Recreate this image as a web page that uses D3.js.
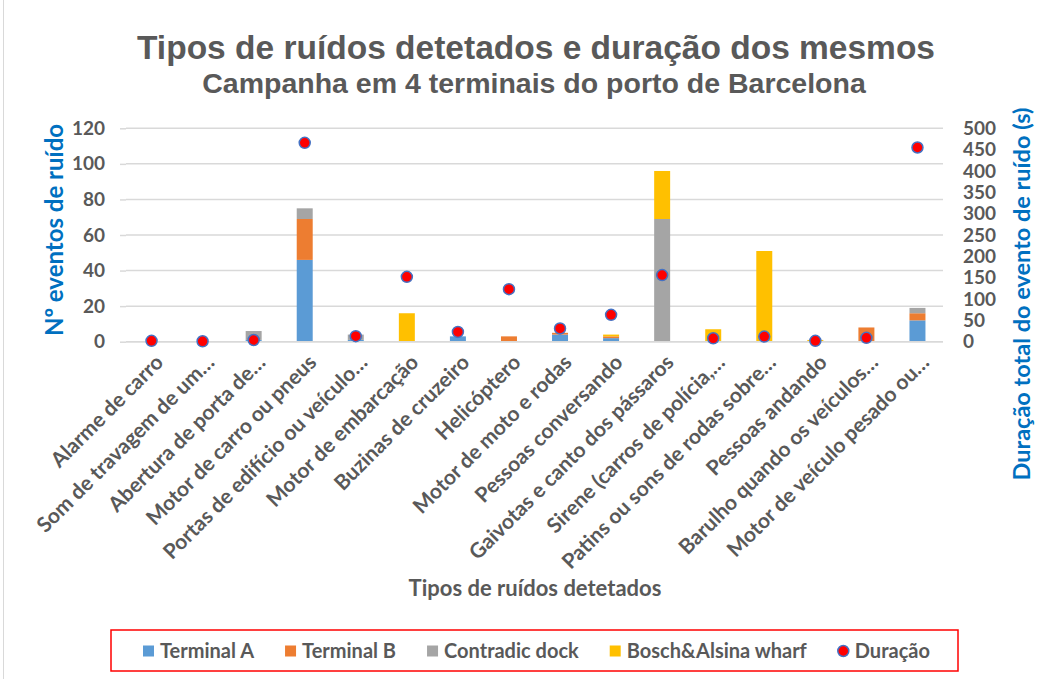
<!DOCTYPE html>
<html>
<head>
<meta charset="utf-8">
<script src="https://cdn.jsdelivr.net/npm/d3@7"></script>
<style>
  body { margin: 0; background: #fff; }
  svg { display: block; }
</style>
</head>
<body>
<svg id="chart" width="1046" height="679"></svg>
<script>
var categories = [
    "Alarme de carro",
    "Som de travagem de um…",
    "Abertura de porta de…",
    "Motor de carro ou pneus",
    "Portas de edifício ou veículo…",
    "Motor de embarcação",
    "Buzinas de cruzeiro",
    "Helicóptero",
    "Motor de moto e rodas",
    "Pessoas conversando",
    "Gaivotas e canto dos pássaros",
    "Sirene (carros de polícia,…",
    "Patins ou sons de rodas sobre…",
    "Pessoas andando",
    "Barulho quando os veículos…",
    "Motor de veículo pesado ou…"
]
var terminalA = [0, 0, 1, 46, 1, 0, 3, 0, 4, 2, 0, 0, 0, 0, 0, 12]
var terminalB = [0, 0, 0, 23, 0, 0, 0, 3, 1, 1, 0, 0, 0, 0, 8, 4]
var contradicDock = [0, 0, 5, 6, 3, 0, 0, 0, 0, 0, 69, 0, 0, 0, 0, 3]
var boschWharf = [0, 0, 0, 0, 0, 16, 0, 0, 0, 1, 27, 7, 51, 1, 0, 0]
var duracao = [2, 1, 4, 466, 13, 152, 23, 123, 31, 63, 156, 8, 12, 2, 9, 455]

var seriesNames = ["Terminal A", "Terminal B", "Contradic dock", "Bosch&Alsina wharf"]
var seriesColors = ["#5B9BD5", "#ED7D31", "#A5A5A5", "#FFC000"]
var leftTicks = [0, 20, 40, 60, 80, 100, 120]
var rightTicks = [0, 50, 100, 150, 200, 250, 300, 350, 400, 450, 500]

var svg = d3.select("#chart")
var grey = "#595959"
var blue = "#0070C0"
var labelFont = "Lato, 'Open Sans', sans-serif"

var plotL = 126, plotR = 943, plotT = 128.3, plotB = 341.7

// rows for the stack
var rows = categories.map(function(c, i) {
    return {
        cat: c,
        "Terminal A": terminalA[i],
        "Terminal B": terminalB[i],
        "Contradic dock": contradicDock[i],
        "Bosch&Alsina wharf": boschWharf[i],
        dur: duracao[i]
    }
})

var x = d3.scaleBand().domain(categories).range([plotL, plotR])
    .paddingInner(0.687).paddingOuter(0.3435)
var y = d3.scaleLinear().domain([0, 120]).range([plotB, plotT])
var y2 = d3.scaleLinear().domain([0, 500]).range([plotB, plotT])

// outer frame line
svg.append("line").attr("x1", 3.5).attr("x2", 3.5).attr("y1", 0).attr("y2", 679)
    .attr("stroke", "#d9d9d9").attr("stroke-width", 1)

// gridlines
svg.append("g").selectAll("line").data(leftTicks).enter().append("line")
    .attr("x1", plotL).attr("x2", plotR)
    .attr("y1", function(d) { return y(d) }).attr("y2", function(d) { return y(d) })
    .attr("stroke", "#d9d9d9").attr("stroke-width", 1.5)

// left axis
var yAxis = d3.axisLeft(y).tickValues(leftTicks).tickSize(6).tickPadding(15)
var gy = svg.append("g").attr("transform", "translate(" + plotL + ",0)").call(yAxis)
gy.select(".domain").remove()
gy.selectAll(".tick line").attr("stroke", "#d9d9d9").attr("stroke-width", 1.5)
gy.selectAll(".tick text").attr("fill", grey).style("font-family", labelFont)
    .style("font-size", "19px").style("font-weight", "bold")

// right axis
var y2Axis = d3.axisRight(y2).tickValues(rightTicks).tickSize(0).tickPadding(20)
var gy2 = svg.append("g").attr("transform", "translate(" + plotR + ",0)").call(y2Axis)
gy2.select(".domain").remove()
gy2.selectAll(".tick text").attr("fill", grey).style("font-family", labelFont)
    .style("font-size", "19px").style("font-weight", "bold")

// stacked bars
var stack = d3.stack().keys(seriesNames)
var layers = stack(rows)
svg.append("g").selectAll("g").data(layers).enter().append("g")
    .attr("fill", function(d, i) { return seriesColors[i] })
    .selectAll("rect").data(function(d) { return d }).enter().append("rect")
    .attr("x", function(d) { return x(d.data.cat) })
    .attr("width", x.bandwidth())
    .attr("y", function(d) { return y(d[1]) })
    .attr("height", function(d) { return y(d[0]) - y(d[1]) })

// x axis line
svg.append("line").attr("x1", plotL).attr("x2", plotR).attr("y1", plotB).attr("y2", plotB)
    .attr("stroke", "#d9d9d9").attr("stroke-width", 1.5)

// x labels
var xAxis = d3.axisBottom(x).tickSize(0)
var gx = svg.append("g").attr("transform", "translate(0," + plotB + ")").call(xAxis)
gx.select(".domain").remove()
gx.selectAll(".tick text")
    .attr("fill", grey).style("font-family", labelFont)
    .style("font-size", "21px").style("font-weight", "bold")
    .attr("text-anchor", "end")
    .attr("dy", 0).attr("y", 0)
    .attr("transform", "translate(13,22) rotate(-45)")

// duration dots
svg.append("g").selectAll("circle").data(rows).enter().append("circle")
    .attr("cx", function(d) { return x(d.cat) + x.bandwidth() / 2 })
    .attr("cy", function(d) { return y2(d.dur) })
    .attr("r", 5.5)
    .attr("fill", "#FF0000").attr("stroke", "#4472C4").attr("stroke-width", 1.5)

// titles
svg.append("text").attr("x", 536).attr("y", 59).attr("text-anchor", "middle")
    .attr("fill", grey).style("font-family", "'Liberation Sans', Arial, sans-serif")
    .style("font-size", "33.5px").style("font-weight", "bold")
    .text("Tipos de ruídos detetados e duração dos mesmos")
svg.append("text").attr("x", 534).attr("y", 93).attr("text-anchor", "middle")
    .attr("fill", grey).style("font-family", "'Liberation Sans', Arial, sans-serif")
    .style("font-size", "28.5px").style("font-weight", "bold")
    .text("Campanha em 4 terminais do porto de Barcelona")

svg.append("text").attr("transform", "translate(63,230) rotate(-90)")
    .attr("text-anchor", "middle").attr("fill", blue)
    .style("font-family", labelFont).style("font-size", "24px").style("font-weight", "bold")
    .text("Nº eventos de ruído")
svg.append("text").attr("transform", "translate(1030,294) rotate(-90)")
    .attr("text-anchor", "middle").attr("fill", blue)
    .style("font-family", labelFont).style("font-size", "23.5px").style("font-weight", "bold")
    .text("Duração total do evento de ruído (s)")

svg.append("text").attr("x", 535).attr("y", 596).attr("text-anchor", "middle")
    .attr("fill", grey).style("font-family", labelFont)
    .style("font-size", "22px").style("font-weight", "bold")
    .text("Tipos de ruídos detetados")

// legend
var legend = svg.append("g")
legend.append("rect").attr("x", 111).attr("y", 630).attr("width", 847).attr("height", 41)
    .attr("fill", "none").attr("stroke", "#FF0000").attr("stroke-width", 1.5)
var legendItems = seriesNames.concat(["Duração"])
var lx = 143
legendItems.forEach(function(name, i) {
    var g = legend.append("g").attr("transform", "translate(" + lx + ",651)")
    if (i < seriesNames.length) {
        g.append("rect").attr("x", 0).attr("y", -5.5).attr("width", 11).attr("height", 11)
            .attr("fill", seriesColors[i])
    } else {
        g.append("circle").attr("cx", 5.5).attr("cy", 0).attr("r", 5.5)
            .attr("fill", "#FF0000").attr("stroke", "#4472C4").attr("stroke-width", 1.5)
    }
    var t = g.append("text").attr("x", 17).attr("y", 0).attr("dy", "0.35em")
        .attr("fill", grey).style("font-family", labelFont)
        .style("font-size", "20px").style("font-weight", "bold")
        .text(name)
    lx += 17 + t.node().getComputedTextLength() + 31
})
</script>
</body>
</html>
